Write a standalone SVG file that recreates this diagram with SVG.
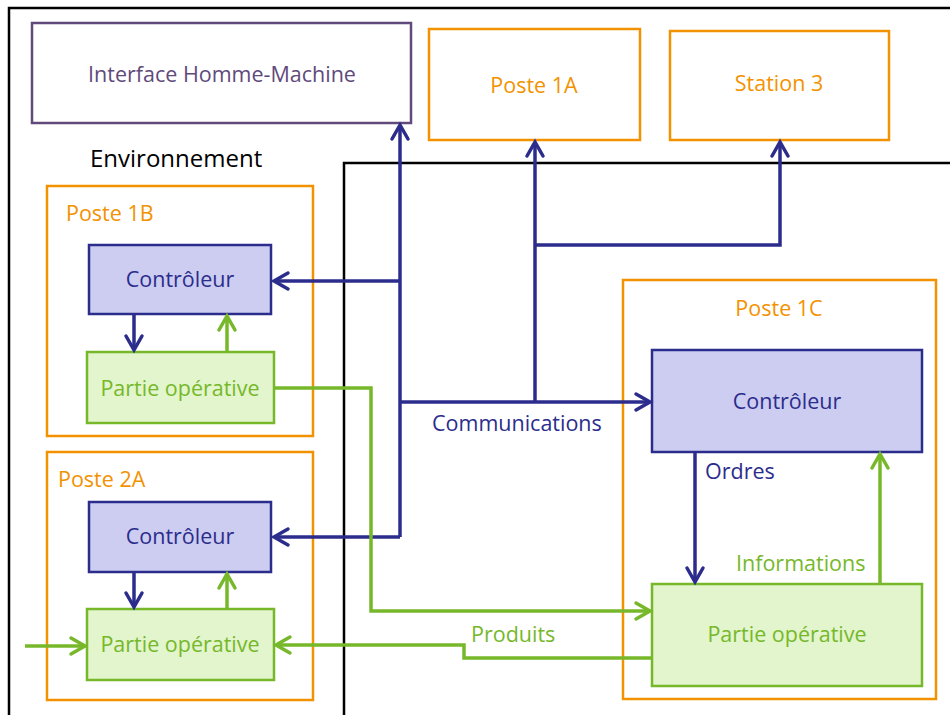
<svg xmlns="http://www.w3.org/2000/svg" width="950" height="715" viewBox="0 0 950 715">
<style>
text{font-family:"Open Sans","Noto Sans","Liberation Sans",sans-serif;font-size:21.5px}
.frame{fill:none;stroke:#000;stroke-width:2.5}
.poste{fill:none;stroke:#f39200;stroke-width:2.5}
.ctrl{fill:#cccdf0;stroke:#2b2c8c;stroke-width:2.5}
.po{fill:#e2f5cc;stroke:#76b82a;stroke-width:2.5}
.ihm{fill:#fff;stroke:#604a7b;stroke-width:2.5}
.lo{fill:#f39200}
.lb{fill:#2b2c8c}
.lg{fill:#76b82a}
.nv{fill:none;stroke:#2b2c8c;stroke-width:3.5}
.gr{fill:none;stroke:#76b82a;stroke-width:3.5}
</style>
<defs>
<marker id="an" markerUnits="userSpaceOnUse" markerWidth="24" markerHeight="24" viewBox="-18 -12 24 24" refX="0" refY="0" orient="auto" overflow="visible">
<path d="M-14,-8 L0,0 L-14,8" fill="none" stroke="#2b2c8c" stroke-width="3.5" stroke-linecap="round"/>
</marker>
<marker id="ag" markerUnits="userSpaceOnUse" markerWidth="24" markerHeight="24" viewBox="-18 -12 24 24" refX="0" refY="0" orient="auto" overflow="visible">
<path d="M-14,-8 L0,0 L-14,8" fill="none" stroke="#76b82a" stroke-width="3.5" stroke-linecap="round"/>
</marker>
</defs>
<rect width="950" height="715" fill="#fff"/>
<g id="environnement">
<path class="frame" d="M9,715 L9,8 L950,8"/>
<text x="90" y="167" fill="#000" style="font-size:24px">Environnement</text>
</g>
<g id="systeme">
<path class="frame" d="M344,715 L344,163 L950,163"/>
</g>
<g id="ihm">
<rect class="ihm" x="32" y="23" width="379" height="100"/>
<text x="222" y="82" text-anchor="middle" fill="#604a7b">Interface Homme-Machine</text>
</g>
<g id="poste1a">
<rect class="poste" x="429" y="29" width="211" height="111"/>
<text x="534" y="93" text-anchor="middle" class="lo">Poste 1A</text>
</g>
<g id="station3">
<rect class="poste" x="670" y="31" width="219" height="109"/>
<text x="779" y="91" text-anchor="middle" class="lo">Station 3</text>
</g>
<g id="poste1b">
<rect class="poste" x="47" y="186" width="266" height="250"/>
<text x="66" y="221" class="lo">Poste 1B</text>
<g id="ctrl1b">
<rect class="ctrl" x="89" y="245" width="182" height="69"/>
<text x="180" y="287" text-anchor="middle" class="lb">Contrôleur</text>
</g>
<g id="po1b">
<rect class="po" x="87" y="352" width="187" height="71"/>
<text x="180" y="396" text-anchor="middle" class="lg">Partie opérative</text>
</g>
</g>
<g id="poste2a">
<rect class="poste" x="47" y="452" width="266" height="248"/>
<text x="58" y="487" class="lo">Poste 2A</text>
<g id="ctrl2a">
<rect class="ctrl" x="89" y="502" width="182" height="70"/>
<text x="180" y="544" text-anchor="middle" class="lb">Contrôleur</text>
</g>
<g id="po2a">
<rect class="po" x="87" y="609" width="187" height="71"/>
<text x="180" y="652" text-anchor="middle" class="lg">Partie opérative</text>
</g>
</g>
<g id="poste1c">
<rect class="poste" x="623" y="280" width="313" height="419"/>
<text x="779" y="316" text-anchor="middle" class="lo">Poste 1C</text>
<g id="ctrl1c">
<rect class="ctrl" x="652" y="350" width="270" height="102"/>
<text x="787" y="409" text-anchor="middle" class="lb">Contrôleur</text>
</g>
<g id="po1c">
<rect class="po" x="652" y="584" width="270" height="102"/>
<text x="787" y="642" text-anchor="middle" class="lg">Partie opérative</text>
</g>
</g>
<g id="connectors">
<path class="nv" d="M400,537 L400,125" marker-end="url(#an)"/>
<path class="nv" d="M400,281 L274,281" marker-end="url(#an)"/>
<path class="nv" d="M400,537 L274,537" marker-end="url(#an)"/>
<path class="nv" d="M400,402 L650,402" marker-end="url(#an)"/>
<path class="nv" d="M535,402 L535,142" marker-end="url(#an)"/>
<path class="nv" d="M535,245 L780,245 L780,142" marker-end="url(#an)"/>
<path class="nv" d="M134,314 L134,350" marker-end="url(#an)"/>
<path class="gr" d="M227,352 L227,316" marker-end="url(#ag)"/>
<path class="nv" d="M134,572 L134,607" marker-end="url(#an)"/>
<path class="gr" d="M227,609 L227,574" marker-end="url(#ag)"/>
<path class="gr" d="M25,646 L85,646" marker-end="url(#ag)"/>
<path class="gr" d="M274,388 L371,388 L371,611 L650,611" marker-end="url(#ag)"/>
<path class="gr" d="M652,658 L464,658 L464,645 L276,645" marker-end="url(#ag)"/>
<path class="nv" d="M695,452 L695,582" marker-end="url(#an)"/>
<path class="gr" d="M880,584 L880,454" marker-end="url(#ag)"/>
<text x="432" y="431" class="lb">Communications</text>
<text x="705" y="479" class="lb">Ordres</text>
<text x="736" y="571" class="lg">Informations</text>
<text x="471" y="642" class="lg">Produits</text>
</g>
</svg>
